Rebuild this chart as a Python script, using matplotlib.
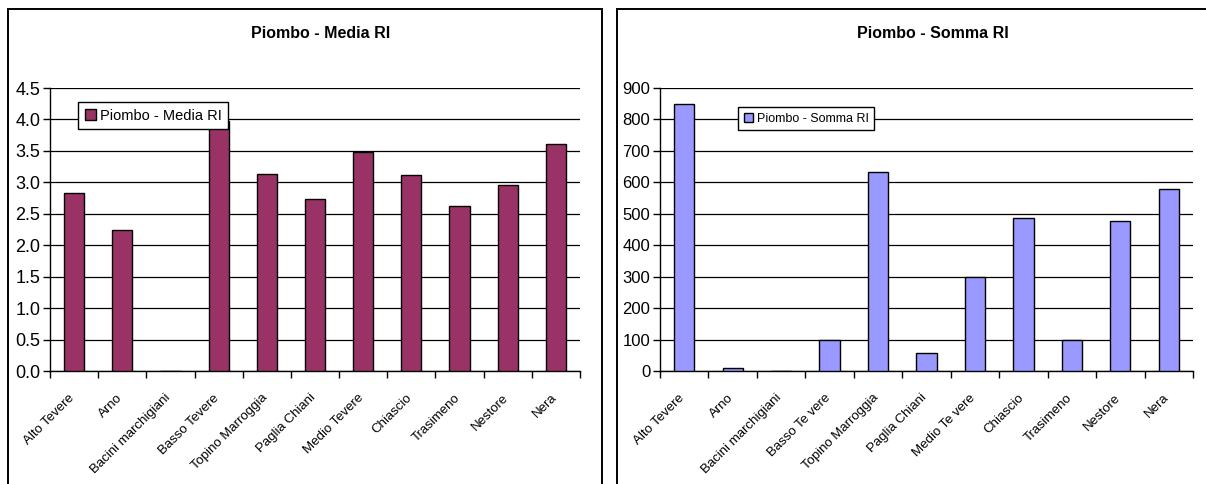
import matplotlib
matplotlib.use("Agg")
import matplotlib.pyplot as plt
from matplotlib.patches import Rectangle
from matplotlib.ticker import MultipleLocator, FormatStrFormatter

plt.rcParams['font.family'] = ['Liberation Sans', 'DejaVu Sans']

# ---------- dati ----------
bacini = ["Alto Tevere", "Arno", "Bacini marchigiani", "Basso Tevere",
          "Topino Marroggia", "Paglia Chiani", "Medio Tevere", "Chiascio",
          "Trasimeno", "Nestore", "Nera"]
bacini_somma = ["Alto Tevere", "Arno", "Bacini marchigiani", "Basso Te vere",
                "Topino Marroggia", "Paglia Chiani", "Medio Te vere", "Chiascio",
                "Trasimeno", "Nestore", "Nera"]
media_ri = [2.83, 2.24, 0.0, 3.98, 3.14, 2.74, 3.49, 3.12, 2.63, 2.96, 3.61]
somma_ri = [848, 9, 0, 98, 632, 58, 300, 486, 98, 477, 579]

W, H = 1206, 484
fig = plt.figure(figsize=(W / 100, H / 100), dpi=100)


def px_axes(x0, x1, ytop, ybot):
    return fig.add_axes([x0 / W, (H - ybot) / H, (x1 - x0) / W, (ybot - ytop) / H])


def frame(x0, x1):
    fig.patches.append(Rectangle((x0 / W, -0.1), (x1 - x0) / W, 1.1 - 9 / H,
                                 transform=fig.transFigure, fill=False,
                                 edgecolor="black", linewidth=1.4, zorder=0))


def draw(ax, labels, values, color, ymax, step, fmt, title, leg_box,
         ytick_size, leg_size):
    x = range(len(values))
    bars = ax.bar(x, values, width=0.42, color=color, edgecolor="black",
                  linewidth=1.0, zorder=3, label=title)
    ax.set_xlim(-0.5, len(values) - 0.5)
    ax.set_ylim(0, ymax)
    ax.yaxis.set_major_locator(MultipleLocator(step))
    ax.yaxis.set_major_formatter(FormatStrFormatter(fmt))
    ax.grid(axis="y", color="black", linewidth=0.9, zorder=1)
    ax.set_axisbelow(True)
    for s in ("top", "right"):
        ax.spines[s].set_visible(False)
    ax.spines["left"].set_linewidth(1.0)
    ax.spines["bottom"].set_linewidth(1.0)

    # tacche sull'asse x tra le categorie
    ax.set_xticks([i - 0.5 for i in range(len(values) + 1)])
    ax.set_xticklabels([])
    ax.tick_params(axis="x", direction="out", length=5, width=1)
    ax.tick_params(axis="y", direction="out", length=5, width=1,
                   labelsize=ytick_size, pad=2)
    for i, lab in enumerate(labels):
        ax.annotate(lab, xy=(i, 0), xycoords=("data", "axes fraction"),
                    xytext=(-4, -15), textcoords="offset points",
                    rotation=45, ha="right", va="top", rotation_mode="anchor",
                    fontsize=9.5)

    pos = ax.get_position()
    fig.text((pos.x0 + pos.x1) / 2 + 0.005, 1 - 34 / H, title,
             ha="center", va="center", fontsize=11.5, fontweight="bold")

    lx0, lx1, ly0, ly1 = leg_box
    leg = ax.legend(handles=[bars], loc="upper left",
                    bbox_to_anchor=((lx0 / W - pos.x0) / pos.width,
                                    ((H - ly0) / H - pos.y0) / pos.height),
                    frameon=True, fancybox=False, shadow=False,
                    edgecolor="black", framealpha=1, fontsize=leg_size,
                    handlelength=0.75, handleheight=0.75, handletextpad=0.3,
                    borderpad=0.45, borderaxespad=0)
    leg.get_frame().set_linewidth(1.0)
    leg.set_zorder(5)


frame(8, 602)
frame(617, 1215)

ax1 = px_axes(50, 580, 88, 371)
draw(ax1, bacini, media_ri, "#993366", 4.5, 0.5, "%.1f",
     "Piombo - Media RI", (78, 226, 102, 129), 13, 10.5)

ax2 = px_axes(660, 1193, 88, 371)
draw(ax2, bacini_somma, somma_ri, "#9999FF", 900, 100, "%d",
     "Piombo - Somma RI", (738, 870, 107, 134), 12, 9)

fig.savefig("out.png", dpi=100)
